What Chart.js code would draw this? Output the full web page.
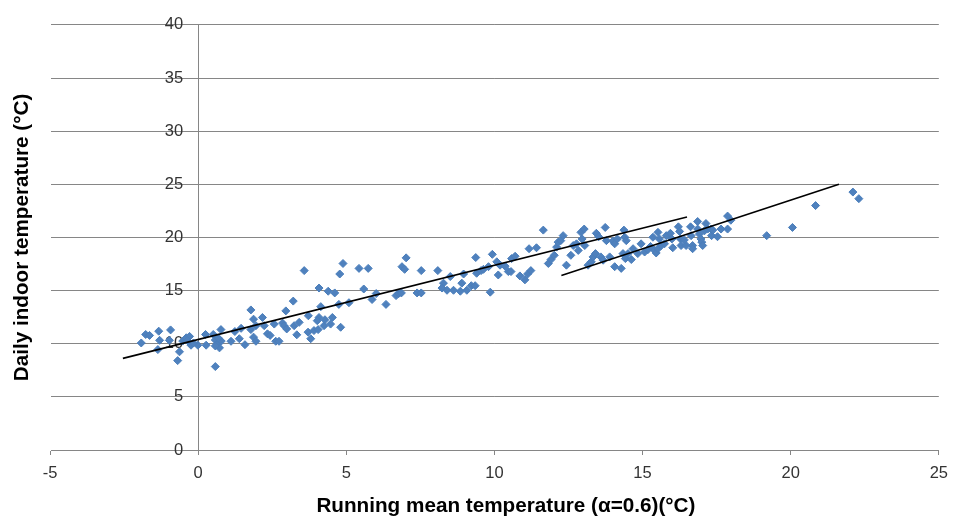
<!DOCTYPE html>
<html>
<head>
<meta charset="utf-8">
<script src="https://cdn.jsdelivr.net/npm/chart.js@4"></script>
<style>
html, body { margin: 0; padding: 0; background: #ffffff; }
#wrap { width: 957px; height: 519px; position: relative; }
</style>
</head>
<body>
<div id="wrap"><canvas id="chart"></canvas></div>
<script>
// Running mean outdoor temperature (x) for each day
const runningMean = [
  -1.92,-1.77,-1.64,-1.33,-1.30,-1.36,-0.93,-0.97,-0.69,-0.63,
  -0.52,-0.40,-0.29,-0.24,-0.01,0.25,0.27,0.51,-0.16,-0.36,
  0.58,0.58,0.65,0.72,0.78,0.68,0.58,0.77,1.11,1.24,
  1.39,1.45,1.58,1.78,1.87,1.78,1.95,1.87,1.95,2.17,
  2.23,2.34,2.43,2.57,2.62,2.73,2.85,2.90,2.99,2.96,
  3.21,3.24,3.33,3.41,3.71,3.80,3.91,4.05,4.08,4.14,
  4.25,4.47,4.53,4.61,4.75,4.81,5.09,3.58,4.08,4.39,
  4.78,4.89,3.72,4.02,4.28,
  5.43,5.59,5.74,5.87,6.01,6.34,6.68,6.77,6.86,6.88,
  6.97,7.02,7.39,7.53,7.53,8.09,8.28,8.23,8.40,8.51,
  8.62,8.85,8.90,8.96,9.07,9.22,9.35,9.40,9.37,9.55,
  9.63,9.80,
  9.86,9.93,10.08,10.13,10.19,10.36,10.47,10.56,10.58,10.70,
  10.86,11.03,11.12,11.23,11.17,11.42,11.65,11.82,11.91,12.02,
  12.10,12.15,12.24,12.32,12.43,12.58,12.66,12.77,12.83,12.92,
  13.03,12.96,13.05,13.16,13.27,13.33,13.41,13.44,13.52,13.59,
  13.67,13.74,13.78,13.89,14.00,14.06,14.06,14.15,14.28,14.37,
  14.40,14.45,14.34,14.42,14.62,14.68,14.84,14.95,15.07,15.18,
  15.27,15.35,15.41,14.51,15.46,
  15.52,15.57,15.52,15.63,15.74,15.80,15.94,15.99,16.02,16.21,
  16.25,16.28,16.30,16.47,16.41,16.62,16.64,16.69,16.69,16.86,
  16.86,16.92,16.97,17.00,17.03,17.14,17.09,17.20,17.31,17.33,
  17.37,17.53,17.65,17.87,17.87,17.98,19.19,20.06,20.84,22.10,
  22.30
];
// Daily indoor temperature (y) for each day
const indoorTemp = [
  10.07,10.87,10.78,11.18,10.32,9.45,11.30,10.32,8.41,9.24,
  10.25,10.56,10.69,9.86,9.86,10.87,9.86,10.87,10.07,10.30,
  7.85,10.35,9.98,9.61,10.25,10.53,9.79,11.33,10.23,11.15,
  10.47,11.45,9.91,13.18,12.31,11.33,11.70,10.62,10.23,12.47,
  11.70,10.93,10.78,11.85,10.23,10.23,11.94,11.70,11.39,13.09,
  14.01,11.70,10.84,12.01,11.09,10.47,11.24,11.33,12.47,13.49,
  11.70,11.85,12.47,14.78,13.70,11.55,13.86,16.88,15.24,14.94,
  16.56,17.55,12.63,12.17,12.26,
  17.09,15.15,17.09,14.16,14.72,13.70,14.53,14.72,14.78,17.25,
  17.00,18.08,14.78,14.78,16.88,16.88,15.70,15.24,15.03,16.32,
  15.03,14.94,15.70,16.56,15.03,15.46,15.46,16.63,18.11,16.88,
  17.00,17.25,
  14.85,18.41,17.71,16.47,17.39,17.30,16.79,16.79,18.01,18.23,
  16.38,16.01,16.56,16.88,18.94,19.03,20.69,17.55,17.92,18.32,
  19.09,19.56,19.70,20.17,17.39,18.32,19.24,19.40,18.78,20.48,
  20.79,19.86,19.24,17.39,17.71,18.17,18.48,20.39,20.07,18.17,
  17.86,20.94,19.70,18.17,19.65,19.40,17.25,19.86,17.09,20.69,
  20.02,19.70,18.48,18.01,17.92,18.94,18.48,19.40,18.63,18.85,
  19.15,20.02,18.78,18.48,18.54,
  20.48,19.86,18.94,19.24,19.40,20.17,20.39,19.86,19.03,21.00,
  20.57,19.86,19.24,19.24,19.77,21.00,20.17,19.24,18.94,21.50,
  20.79,20.32,19.86,19.56,19.24,21.31,20.63,20.79,20.79,20.17,
  20.69,20.07,20.79,20.79,22.01,21.62,20.17,20.94,23.00,24.27,
  23.65
];
// Trend lines (end points)
const trendAllX = [-2.54, 16.50];
const trendAllY = [8.62, 21.92];
const trendWarmX = [12.26, 21.63];
const trendWarmY = [16.42, 25.01];
// Axis ticks and titles
const xTickValues = [-5, 0, 5, 10, 15, 20, 25];
const yTickValues = [0, 5, 10, 15, 20, 25, 30, 35, 40];
const xTitle = 'Running mean temperature (\u03B1=0.6)(\u00B0C)';
const yTitle = 'Daily indoor temperature (\u00B0C)';

const FONT = '"Liberation Sans", Arial, Helvetica, sans-serif';
const toPts = (xs, ys) => xs.map((x, i) => ({ x: x, y: ys[i] }));

// Place the vertical axis (line + labels) at x = 0, keep its title at the far left;
// nudge the horizontal title box so its centre matches the original layout.
const axisPlacement = {
  id: 'axisPlacement',
  afterLayout(chart) {
    const ys = chart.scales.y, xs = chart.scales.x;
    const px = xs.getPixelForValue(0);
    ys.right = px;
    ys.width = px - ys.left;
    xs.left = xs.left + 23;
    xs.width = xs.right - xs.left;
  }
};

new Chart(document.getElementById('chart'), {
  type: 'scatter',
  data: {
    datasets: [
      {
        label: 'Trend (all)',
        data: toPts(trendAllX, trendAllY),
        showLine: true,
        borderColor: '#000000',
        borderWidth: 1.6,
        pointRadius: 0,
        fill: false,
        order: 0
      },
      {
        label: 'Trend (warm)',
        data: toPts(trendWarmX, trendWarmY),
        showLine: true,
        borderColor: '#000000',
        borderWidth: 1.6,
        pointRadius: 0,
        fill: false,
        order: 0
      },
      {
        label: 'Daily indoor temperature',
        data: toPts(runningMean, indoorTemp),
        pointStyle: 'rectRot',
        pointRadius: 4,
        backgroundColor: '#4F81BD',
        borderColor: '#4A7EBB',
        borderWidth: 1,
        showLine: false,
        order: 1
      }
    ]
  },
  options: {
    responsive: true,
    maintainAspectRatio: false,
    animation: false,
    layout: { padding: { top: 17, right: 15, bottom: 0, left: 0 } },
    plugins: {
      legend: { display: false },
      tooltip: { enabled: false }
    },
    scales: {
      x: {
        type: 'linear',
        position: 'bottom',
        min: -5,
        max: 25,
        afterBuildTicks: s => { s.ticks = xTickValues.map(v => ({ value: v })); },
        afterFit: s => { s.height = 69; },
        grid: { drawOnChartArea: false, drawTicks: true, tickLength: 5, color: '#868686', lineWidth: 1 },
        border: { display: true, color: '#868686', width: 1 },
        ticks: { padding: 9, color: '#333333', font: { family: FONT, size: 16.5 } },
        title: {
          display: true,
          text: xTitle,
          color: '#000000',
          font: { family: FONT, size: 20.7, weight: 'bold' },
          padding: { top: 0, bottom: 0.6 }
        }
      },
      y: {
        type: 'linear',
        position: 'left',
        min: 0,
        max: 40,
        afterBuildTicks: s => { s.ticks = yTickValues.map(v => ({ value: v })); },
        afterFit: s => { s.width = 50; },
        grid: { color: '#868686', lineWidth: 1, drawTicks: false, tickLength: 0 },
        border: { display: true, color: '#868686', width: 1 },
        ticks: { padding: 15, color: '#333333', font: { family: FONT, size: 16.5 } },
        title: {
          display: true,
          text: yTitle,
          color: '#000000',
          font: { family: FONT, size: 20.7, weight: 'bold' },
          padding: { top: 10, bottom: 0 }
        }
      }
    }
  },
  plugins: [axisPlacement]
});
</script>
</body>
</html>
